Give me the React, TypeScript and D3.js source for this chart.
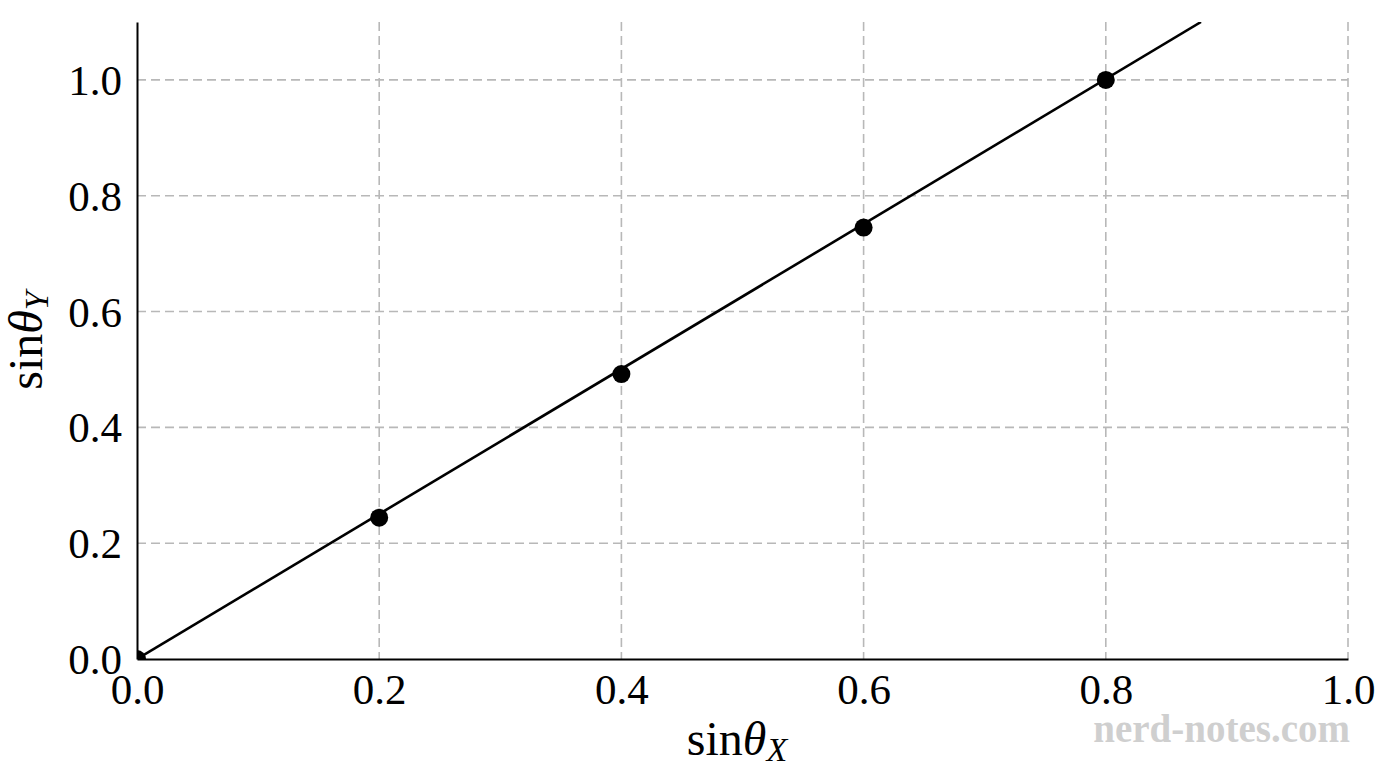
import * as d3 from "d3";
import { useEffect, useRef } from "react";

// measured points (sinθX, sinθY)
const sinX = [0.0, 0.2, 0.4, 0.6, 0.8];
const sinY = [0.0, 0.244, 0.492, 0.745, 1.0];
// least squares slope through origin, as drawn
const fitSlope = 1.252;
const xTicks = [0.0, 0.2, 0.4, 0.6, 0.8, 1.0];
const yTicks = [0.0, 0.2, 0.4, 0.6, 0.8, 1.0];

const W = 1376;
const H = 768;
const FONT = "'Liberation Serif', 'DejaVu Serif', serif";

export default function App() {
  const svgRef = useRef<SVGSVGElement>(null);

  useEffect(() => {
    if (!svgRef.current) return;
    const margin = { top: 22, right: 28, bottom: 109, left: 137 };
    const width = W - margin.left - margin.right;
    const height = H - margin.top - margin.bottom;

    d3.select(svgRef.current).selectAll("*").remove();
    const root = d3.select(svgRef.current);
    root.append("rect").attr("width", W).attr("height", H).attr("fill", "#fff");

    const svg = root
      .append("g")
      .attr("transform", `translate(${margin.left},${margin.top})`);

    const x = d3.scaleLinear().domain([0, 1.0]).range([0, width]);
    const y = d3.scaleLinear().domain([0, 1.1]).range([height, 0]);

    // grid
    svg
      .append("g")
      .selectAll("line")
      .data(xTicks.slice(1))
      .enter()
      .append("line")
      .attr("x1", (d) => x(d))
      .attr("x2", (d) => x(d))
      .attr("y1", 0)
      .attr("y2", height)
      .attr("stroke", "#b8b8b8")
      .attr("stroke-width", 1.6)
      .attr("stroke-dasharray", "9,5");

    svg
      .append("g")
      .selectAll("line")
      .data(yTicks.slice(1))
      .enter()
      .append("line")
      .attr("x1", 0)
      .attr("x2", width)
      .attr("y1", (d) => y(d))
      .attr("y2", (d) => y(d))
      .attr("stroke", "#b8b8b8")
      .attr("stroke-width", 1.6)
      .attr("stroke-dasharray", "9,5");

    // fit line, clipped to the plot area
    svg
      .append("clipPath")
      .attr("id", "plot-clip")
      .append("rect")
      .attr("width", width)
      .attr("height", height);

    const xEnd = Math.min(1.0, 1.1 / fitSlope);
    svg
      .append("path")
      .datum([0, xEnd])
      .attr("clip-path", "url(#plot-clip)")
      .attr(
        "d",
        d3
          .line<number>()
          .x((d) => x(d))
          .y((d) => y(fitSlope * d))
      )
      .attr("fill", "none")
      .attr("stroke", "#000")
      .attr("stroke-width", 2.6);

    // axes (left and bottom spines only)
    const xAxis = svg
      .append("g")
      .attr("transform", `translate(0,${height})`)
      .call(
        d3
          .axisBottom(x)
          .tickValues(xTicks)
          .tickSize(0)
          .tickPadding(14)
          .tickFormat(d3.format(".1f"))
      );
    const yAxis = svg.append("g").call(
      d3
        .axisLeft(y)
        .tickValues(yTicks)
        .tickSize(0)
        .tickPadding(15)
        .tickFormat(d3.format(".1f"))
    );
    [xAxis, yAxis].forEach((g) => {
      g.select(".domain").attr("stroke", "#000").attr("stroke-width", 2);
      g.selectAll(".tick text")
        .attr("fill", "#000")
        .attr("font-family", FONT)
        .attr("font-size", 43);
    });
    xAxis.selectAll(".tick text").attr("dy", "0.72em");
    yAxis.selectAll(".tick text").attr("dy", "0.34em");

    // points
    svg
      .append("g")
      .selectAll("circle")
      .data(sinX.map((v, i) => [v, sinY[i]]))
      .enter()
      .append("circle")
      .attr("clip-path", "url(#plot-clip)")
      .attr("cx", (d) => x(d[0]))
      .attr("cy", (d) => y(d[1]))
      .attr("r", 9)
      .attr("fill", "#000");

    // axis labels
    const xl = root
      .append("text")
      .attr("x", 737)
      .attr("y", 755)
      .attr("text-anchor", "middle")
      .attr("font-family", FONT)
      .attr("font-size", 48)
      .attr("fill", "#000");
    xl.append("tspan").text("sin");
    xl.append("tspan").attr("font-style", "italic").text("θ");
    xl.append("tspan")
      .attr("font-style", "italic")
      .attr("font-size", 34)
      .attr("dy", 6)
      .text("X");

    const yl = root
      .append("text")
      .attr("transform", `translate(42,${margin.top + height / 2}) rotate(-90)`)
      .attr("text-anchor", "middle")
      .attr("font-family", FONT)
      .attr("font-size", 48)
      .attr("fill", "#000");
    yl.append("tspan").text("sin");
    yl.append("tspan").attr("font-style", "italic").text("θ");
    yl.append("tspan")
      .attr("font-style", "italic")
      .attr("font-size", 34)
      .attr("dy", 6)
      .text("Y");

    // watermark
    root
      .append("text")
      .attr("x", 1350)
      .attr("y", 742)
      .attr("text-anchor", "end")
      .attr("font-family", FONT)
      .attr("font-weight", "bold")
      .attr("font-size", 39)
      .attr("fill", "#cfcfcf")
      .text("nerd-notes.com");
  }, []);

  return (
    <div style={{ position: "fixed", left: 0, top: 0 }}>
      <svg ref={svgRef} width={W} height={H} style={{ display: "block" }} />
    </div>
  );
}
